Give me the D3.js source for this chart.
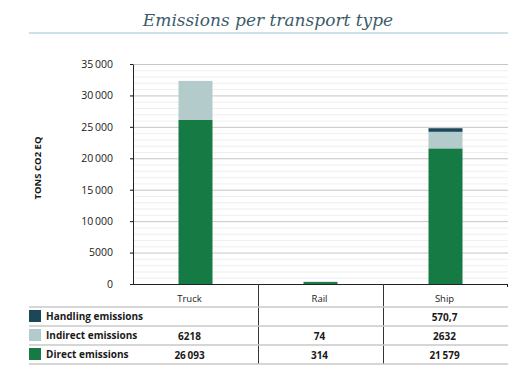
<!DOCTYPE html>
<meta charset="utf-8">
<html>
  <head>
    <style>
      body { margin: 0; background: #fff; }
      text { font-family: "Open Sans", sans-serif; fill: #1a1a1a; }
      .title { font-family: "DejaVu Serif", serif; font-style: italic; fill: #3d5b69; }
      .bold { font-weight: bold; }
    </style>
    <script src="https://d3js.org/d3.v7.min.js"></script>
  </head>
  <body>
<div id="chart"></div>
<script type="text/javascript">
// data
var categories = ["Truck", "Rail", "Ship"];
var seriesNames = ["Direct emissions", "Indirect emissions", "Handling emissions"];
var direct = [26093, 314, 21579];
var indirect = [6218, 74, 2632];
var handling = [null, null, 570.7];
var yTicks = [0, 5000, 10000, 15000, 20000, 25000, 30000, 35000];
var colors = ["#157a43", "#b3cbcb", "#1c4759"];

var W = 526, H = 389;
var margin = {top: 64, left: 133, right: 18, bottom: 105};
var width = W - margin.left - margin.right,
    height = H - margin.top - margin.bottom;

var svg = d3.select("#chart").append("svg")
  .attr("width", W).attr("height", H);

// number format: space grouping only from 5 digits, comma decimals
function fmt(v) {
  var parts = String(v).split(".");
  var s = parts[0];
  if (s.length > 4) s = s.replace(/\B(?=(\d{3})+(?!\d))/g, "\u2009");
  return parts.length > 1 ? s + "," + parts[1] : s;
}

// title
svg.append("text").attr("class", "title")
  .attr("x", 268).attr("y", 26)
  .attr("text-anchor", "middle")
  .style("font-size", "17px")
  .text("Emissions per transport type");
svg.append("line")
  .attr("x1", 29).attr("x2", 508).attr("y1", 33).attr("y2", 33)
  .attr("stroke", "#9cc5cc").attr("stroke-width", 1);

var g = svg.append("g").attr("transform", "translate(" + margin.left + "," + margin.top + ")");

var x = d3.scaleBand().domain(categories).range([0, width]);
var y = d3.scaleLinear().domain([0, 35000]).range([height, 0]);

// minor grid
g.append("g").selectAll("line")
  .data(d3.range(0, 35001, 1000).filter(function(d) { return d % 5000 !== 0; }))
  .enter().append("line")
  .attr("x1", 0).attr("x2", width)
  .attr("y1", function(d) { return y(d) + 0.5; }).attr("y2", function(d) { return y(d) + 0.5; })
  .attr("stroke", "#efefef");

// major grid
g.append("g").selectAll("line")
  .data(yTicks.slice(1))
  .enter().append("line")
  .attr("x1", -3).attr("x2", width)
  .attr("y1", function(d) { return y(d) + 0.5; }).attr("y2", function(d) { return y(d) + 0.5; })
  .attr("stroke", "#c6c6c6");

// y axis
var yAxis = g.append("g")
  .call(d3.axisLeft(y).tickValues(yTicks).tickSize(3).tickPadding(17).tickFormat(fmt));
yAxis.select(".domain").attr("stroke", "#222").attr("d", "M0.5," + height + "V0.5");
yAxis.selectAll(".tick line").attr("stroke", "#222");
yAxis.selectAll("text").style("font-size", "10.5px").style("font-family", "Open Sans, sans-serif")
  .attr("fill", "#1a1a1a");

svg.append("text").attr("class", "bold")
  .attr("transform", "translate(41,168) rotate(-90)")
  .attr("text-anchor", "middle")
  .style("font-size", "9.5px")
  .text("TONS CO2 EQ");

// stacked bars
var rows = categories.map(function(c, i) {
  return {cat: c, direct: direct[i], indirect: indirect[i], handling: handling[i] || 0};
});
var stack = d3.stack().keys(["direct", "indirect", "handling"])(rows);
var barW = 34;

g.selectAll("g.layer").data(stack).enter().append("g")
  .attr("class", "layer")
  .attr("fill", function(d, i) { return colors[i]; })
  .selectAll("rect").data(function(d) { return d; }).enter().append("rect")
  .attr("x", function(d) { return x(d.data.cat) + x.bandwidth() / 2 - barW / 2; })
  .attr("width", barW)
  .attr("y", function(d) { return y(d[1]); })
  .attr("height", function(d) { return y(d[0]) - y(d[1]); });

// x axis line
g.append("line")
  .attr("x1", -3).attr("x2", width).attr("y1", height + 0.5).attr("y2", height + 0.5)
  .attr("stroke", "#222");
g.append("line")
  .attr("x1", width - 0.5).attr("x2", width - 0.5).attr("y1", height).attr("y2", height + 3)
  .attr("stroke", "#222");

// data table
var tableTop = height;
var rowY = [23, 42, 61, 80]; // bottom lines of header, handling, indirect, direct rows
var tableRows = [
  {name: seriesNames[2], vals: handling, color: colors[2]},
  {name: seriesNames[1], vals: indirect, color: colors[1]},
  {name: seriesNames[0], vals: direct, color: colors[0]}
];

// separators
categories.slice(1).forEach(function(c) {
  g.append("line")
    .attr("x1", x(c) + 0.5).attr("x2", x(c) + 0.5)
    .attr("y1", tableTop).attr("y2", tableTop + rowY[3])
    .attr("stroke", "#333");
});
rowY.forEach(function(ry) {
  g.append("line")
    .attr("x1", 29 - margin.left).attr("x2", width)
    .attr("y1", tableTop + ry).attr("y2", tableTop + ry)
    .attr("stroke", "#c9c9c9").attr("stroke-width", 1.3);
});

var colX = function(c, i) { return x(c) + x.bandwidth() / 2 - (i === 0 ? 6 : 1); };

g.selectAll("text.cat").data(categories).enter().append("text")
  .attr("class", "cat")
  .attr("x", function(d, i) { return colX(d, i); })
  .attr("y", tableTop + 18)
  .attr("text-anchor", "middle")
  .style("font-size", "9.5px")
  .text(function(d) { return d; });

tableRows.forEach(function(r, ri) {
  var top = tableTop + rowY[ri];
  g.append("rect")
    .attr("x", 29 - margin.left).attr("y", top + 3)
    .attr("width", 12).attr("height", 12)
    .attr("fill", r.color);
  g.append("text").attr("class", "bold")
    .attr("x", 46 - margin.left).attr("y", top + 13)
    .style("font-size", "10px")
    .text(r.name);
  categories.forEach(function(c, i) {
    if (r.vals[i] == null) return;
    g.append("text").attr("class", "bold")
      .attr("x", colX(c, i)).attr("y", top + 14)
      .attr("text-anchor", "middle")
      .style("font-size", "10px")
      .text(fmt(r.vals[i]));
  });
});
</script>
</body>
</html>
